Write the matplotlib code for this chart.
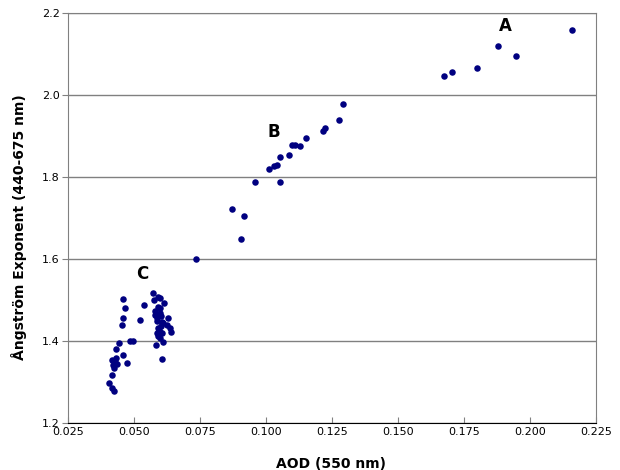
import matplotlib
matplotlib.use("Agg")
import matplotlib.pyplot as plt
from matplotlib.ticker import FormatStrFormatter

aod = [
    # cluster C (left part)
    0.0459, 0.0466, 0.0459, 0.0453, 0.0444, 0.0432, 0.0485, 0.0495, 0.0459, 0.0472,
    0.0417, 0.0428, 0.0420, 0.0436, 0.0424, 0.0432, 0.0416, 0.0406, 0.0416, 0.0424,
    0.0538, 0.0523,
    # cluster C (right part)
    0.0571, 0.0576, 0.0592, 0.0598, 0.0614, 0.0592, 0.0598, 0.0580, 0.0586, 0.0598,
    0.0605, 0.0611, 0.0630, 0.0626, 0.0636, 0.0640, 0.0592, 0.0598, 0.0586, 0.0605,
    0.0592, 0.0598, 0.0611, 0.0583, 0.0605, 0.0595, 0.0601, 0.0589, 0.0603, 0.0578,
    # middle
    0.0735, 0.0872, 0.0916, 0.0906,
    # cluster B
    0.0960, 0.1052, 0.1013, 0.1031, 0.1040, 0.1053, 0.1086, 0.1100, 0.1111, 0.1129,
    0.1150, 0.1217, 0.1223, 0.1275, 0.1292,
    # cluster A
    0.1675, 0.1706, 0.1799, 0.1878, 0.1947, 0.2158,
]
angstrom = [
    1.503, 1.481, 1.455, 1.438, 1.394, 1.380, 1.400, 1.400, 1.365, 1.347,
    1.354, 1.349, 1.341, 1.344, 1.334, 1.359, 1.317, 1.297, 1.285, 1.278,
    1.487, 1.452,
    1.516, 1.500, 1.508, 1.504, 1.492, 1.484, 1.481, 1.463, 1.455, 1.468,
    1.447, 1.443, 1.455, 1.439, 1.431, 1.423, 1.431, 1.423, 1.419, 1.419,
    1.411, 1.407, 1.398, 1.390, 1.357, 1.427, 1.436, 1.450, 1.460, 1.472,
    1.600, 1.723, 1.704, 1.650,
    1.787, 1.789, 1.819, 1.827, 1.829, 1.850, 1.854, 1.879, 1.879, 1.876,
    1.896, 1.913, 1.919, 1.939, 1.978,
    2.047, 2.056, 2.065, 2.120, 2.096, 2.159,
]

labels = ["A", "B", "C"]
label_x = [0.1905, 0.1030, 0.0530]
label_y = [2.168, 1.909, 1.563]

x_ticks = [0.025, 0.050, 0.075, 0.100, 0.125, 0.150, 0.175, 0.200, 0.225]
y_ticks = [1.2, 1.4, 1.6, 1.8, 2.0, 2.2]

fig = plt.figure(figsize=(6.2, 4.7), dpi=100)
ax = fig.add_axes([68/620, 1 - 423/470, (596-68)/620, (423-13)/470])

ax.scatter(aod, angstrom, s=22, color="#000080", zorder=3, linewidths=0)

for lab, lx, ly in zip(labels, label_x, label_y):
    ax.text(lx, ly, lab, fontsize=12, fontweight="bold", ha="center", va="center")

ax.set_xlim(0.025, 0.225)
ax.set_ylim(1.2, 2.2)
ax.set_xticks(x_ticks)
ax.set_yticks(y_ticks)
ax.xaxis.set_major_formatter(FormatStrFormatter("%.3f"))
ax.yaxis.set_major_formatter(FormatStrFormatter("%.1f"))
ax.grid(axis="y", color="#808080", linewidth=1)
ax.set_axisbelow(True)
ax.tick_params(axis="x", direction="in", length=4, labelsize=8, color="#808080", pad=3)
ax.tick_params(axis="y", direction="out", length=4, labelsize=8, color="#808080", pad=2)
for side in ["top", "right", "left"]:
    ax.spines[side].set_color("#808080")
ax.spines["bottom"].set_color("black")

ax.set_xlabel("AOD (550 nm)", fontsize=10, fontweight="bold")
ax.set_ylabel("Ångström Exponent (440-675 nm)", fontsize=10, fontweight="bold")
ax.xaxis.set_label_coords(0.499, -0.082)
ax.yaxis.set_label_coords(-0.078, 0.478)

fig.savefig("out.png", dpi=100)
